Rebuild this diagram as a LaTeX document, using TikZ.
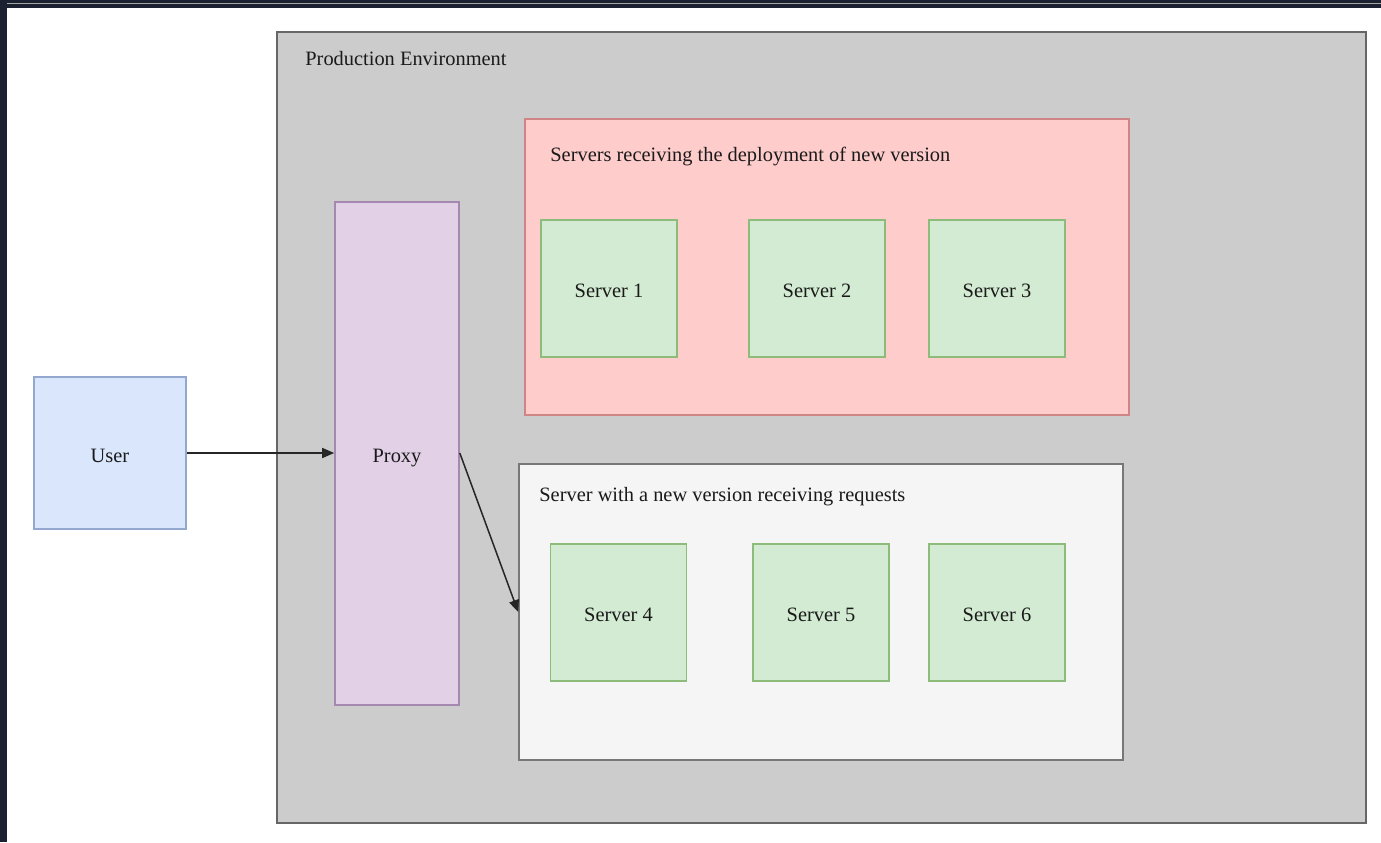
\documentclass[tikz,border=0pt]{standalone}
\usepackage{fontspec}
\setmainfont{Liberation Serif}
\usetikzlibrary{arrows.meta}
\definecolor{framedark}{HTML}{1B2130}
\definecolor{prodfill}{HTML}{CCCCCC}
\definecolor{prodline}{HTML}{666666}
\definecolor{redfill}{HTML}{FFCCCC}
\definecolor{redline}{HTML}{CF8585}
\definecolor{whitefill}{HTML}{F5F5F5}
\definecolor{whiteline}{HTML}{777777}
\definecolor{greenfill}{HTML}{D2EBD2}
\definecolor{greenline}{HTML}{8CBB7A}
\definecolor{purplefill}{HTML}{E1D0E6}
\definecolor{purpleline}{HTML}{A588B0}
\definecolor{bluefill}{HTML}{DAE6FC}
\definecolor{blueline}{HTML}{94A8CF}
\definecolor{txt}{HTML}{1A1A1A}
\tikzset{
  box/.style={draw, line width=0.8pt, inner sep=0pt, text=txt, text height=9pt, text depth=0pt, font=\fontsize{10.2pt}{12pt}\selectfont},
  server/.style={box, fill=greenfill, draw=greenline, minimum width=68pt, minimum height=68.5pt},
  title/.style={anchor=west, inner sep=0pt, text=txt, font=\fontsize{10.2pt}{12pt}\selectfont},
  conn/.style={draw=black!85, line width=0.75pt, -{Triangle[length=6pt,width=5pt]}}
}
\begin{document}
\begin{tikzpicture}[x=0.5pt, y=-0.5pt]
\useasboundingbox (0,0) rectangle (1381,842);
\fill[white] (0,0) rectangle (1381,842);
% window frame
\fill[framedark] (0,0) rectangle (1381,8);
\fill[gray!70] (5,3) rectangle (1381,4);
\fill[framedark] (0,0) rectangle (7,842);

% production environment
\node[box, fill=prodfill, draw=prodline, minimum width=544.5pt, minimum height=395.5pt] (prod) at (821.5,427.5) {};
\node[title] (prodtitle) at (305,59) {Production Environment};

% red group
\node[box, fill=redfill, draw=redline, minimum width=302pt, minimum height=148pt] (red) at (827,267) {};
\node[title] (redtitle) at (550,157) {Servers receiving the deployment of new version};

% white group
\node[box, fill=whitefill, draw=whiteline, minimum width=302pt, minimum height=148pt] (grey) at (821,612) {};
\node[title] (greytitle) at (539,497) {Server with a new version receiving requests};

% servers
\node[server] (s1) at (609,288.5) {Server 1};
\node[server] (s2) at (817,288.5) {Server 2};
\node[server] (s3) at (997,288.5) {Server 3};
\node[server] (s4) at (618.5,612.5) {Server 4};
\node[server] (s5) at (821,612.5) {Server 5};
\node[server] (s6) at (997,612.5) {Server 6};

% proxy
\node[box, fill=purplefill, draw=purpleline, minimum width=62pt, minimum height=251.5pt] (proxy) at (397,453.5) {Proxy};

% user
\node[box, fill=bluefill, draw=blueline, minimum width=76pt, minimum height=76pt] (user) at (110,453) {User};

% connectors
\draw[conn] (user.east) -- (proxy.west |- user.east);
\draw[conn] (proxy.east |- user.east) -- (grey.west);
\end{tikzpicture}
\end{document}
